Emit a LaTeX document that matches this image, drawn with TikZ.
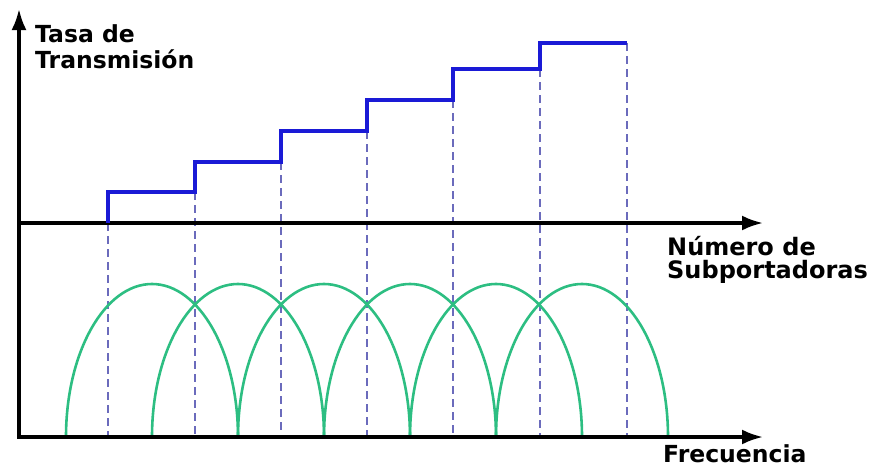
\documentclass[tikz,border=0pt]{standalone}
\usepackage{fontspec}
\setmainfont{DejaVu Sans}
\usetikzlibrary{arrows.meta,positioning}
\definecolor{stepblue}{HTML}{1A1AD6}
\definecolor{lobe}{HTML}{2DBE82}
\definecolor{guide}{HTML}{6B6BBC}

\begin{document}
\begin{tikzpicture}[x=1pt,y=-1pt,
every node/.style={font=\fontsize{23.5}{26}\selectfont\bfseries,inner sep=0pt},
axis/.style={line width=3.2pt,draw=black},
stair/.style={line width=3.8pt,draw=stepblue},
lobearc/.style={line width=2.6pt,draw=lobe},
guideline/.style={line width=2.6pt,draw=guide,dash pattern=on 8pt off 5pt}]
\useasboundingbox (0,0) rectangle (870,466);
% axes
\coordinate (o) at (19,437);
\coordinate (top) at (19,9);
\coordinate (fend) at (763,437);
\coordinate (n0) at (19,223);
\coordinate (nend) at (763,223);
% staircase corners
\coordinate (s1) at (108,223);
\coordinate (s2) at (195,192);
\coordinate (s3) at (281,162);
\coordinate (s4) at (367,131);
\coordinate (s5) at (453,100);
\coordinate (s6) at (540,69);
\coordinate (s7) at (627,43);
\draw[guideline] (s1)--(s1|-o);\draw[guideline] (s2)--(s2|-o);
\draw[guideline] (s3)--(s3|-o);\draw[guideline] (s4)--(s4|-o);
\draw[guideline] (s5)--(s5|-o);\draw[guideline] (s6)--(s6|-o);
\draw[guideline] (s7)--(s7|-o);
% subcarrier lobes
\draw[lobearc] (66,437) arc[start angle=180,end angle=0,x radius=86pt,y radius=153pt];
\draw[lobearc] (152,437) arc[start angle=180,end angle=0,x radius=86pt,y radius=153pt];
\draw[lobearc] (238,437) arc[start angle=180,end angle=0,x radius=86pt,y radius=153pt];
\draw[lobearc] (324,437) arc[start angle=180,end angle=0,x radius=86pt,y radius=153pt];
\draw[lobearc] (410,437) arc[start angle=180,end angle=0,x radius=86pt,y radius=153pt];
\draw[lobearc] (496,437) arc[start angle=180,end angle=0,x radius=86pt,y radius=153pt];
\draw[axis,{Latex[length=21pt,width=15pt]}-{Latex[length=21pt,width=15pt]}] (top) |- (fend);
\draw[axis,-{Latex[length=21pt,width=15pt]}] (n0)--(nend);
\draw[stair] (s1)|-(s2)|-(s3)|-(s4)|-(s5)|-(s6)|-(s7);
\node[anchor=base west,align=left] (rate) at (35,68) {Tasa de\\Transmisión};
\node[anchor=base west,align=left,font=\fontsize{24}{23}\selectfont\bfseries] (subc) at (667,278) {Número de\\Subportadoras};
\node[anchor=base west] (freq) at (663,462) {Frecuencia};
\end{tikzpicture}
\end{document}
